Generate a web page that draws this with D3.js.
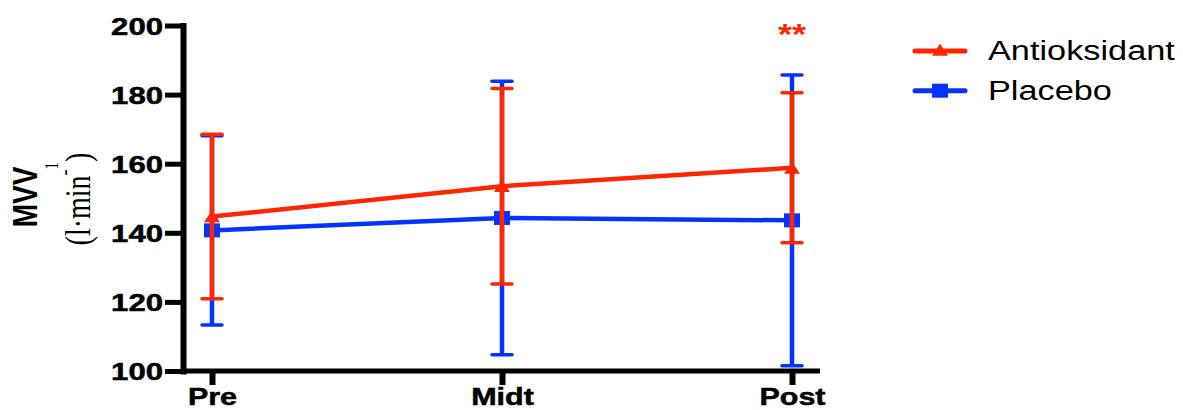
<!DOCTYPE html>
<html>
<head>
<meta charset="utf-8">
<script src="https://cdn.jsdelivr.net/npm/d3@7/dist/d3.min.js"></script>
<style>
  html, body { margin: 0; padding: 0; background: #fff; }
  svg { display: block; font-family: "Liberation Sans", Arial, sans-serif; }
</style>
</head>
<body>
<div id="chart"></div>
<script>
// values (mean and SD per time point)
var groups = ["Pre", "Midt", "Post"];
var antiMean = [144.7, 153.5, 158.8];
var antiSD = [23.8, 28.3, 21.7];
var placMean = [140.7, 144.3, 143.6];
var placSD = [27.4, 39.6, 42.1];
var yTicks = [100, 120, 140, 160, 180, 200];
var seriesNames = ["Antioksidant", "Placebo"];

var width = 1183, height = 410;
var RED = "#ff2600", BLUE = "#0433ff";
var SX = 1.27; // the original is stretched sideways, text too

var svg = d3.select("#chart")
  .append("svg")
  .attr("width", width)
  .attr("height", height);

var x = d3.scalePoint().domain(groups).range([212, 792]);
var y = d3.scaleLinear().domain([100, 200]).range([371, 25.5]);

// y axis
var yAxis = svg.append("g")
  .attr("transform", "translate(183,0)")
  .call(d3.axisLeft(y).tickValues(yTicks).tickSize(18).tickSizeOuter(0));
yAxis.select(".domain").attr("stroke", "#000").attr("stroke-width", 6).attr("stroke-linecap", "square");
yAxis.selectAll(".tick line").attr("stroke", "#000").attr("stroke-width", 5);
yAxis.selectAll(".tick text")
  .attr("x", 0)
  .attr("dy", "0.35em")
  .attr("transform", "translate(-20,0) scale(" + SX + ",1)")
  .attr("fill", "#000")
  .attr("stroke", "#000").attr("stroke-width", 0.5)
  .style("font-family", "'Liberation Sans', Arial, sans-serif")
  .style("font-weight", "bold")
  .style("font-size", "24.5px");

// x axis
var xAxis = svg.append("g")
  .attr("transform", "translate(0,371)")
  .call(d3.axisBottom(x).tickSize(14).tickSizeOuter(0));
xAxis.select(".domain").remove();
xAxis.insert("line", ":first-child")
  .attr("x1", 181).attr("x2", 820)
  .attr("y1", 0).attr("y2", 0)
  .attr("stroke", "#000").attr("stroke-width", 5);
xAxis.selectAll(".tick line").attr("stroke", "#000").attr("stroke-width", 6);
// kept just inside the bottom edge
xAxis.selectAll(".tick text")
  .attr("y", 0)
  .attr("dy", 0)
  .attr("transform", "translate(0,34) scale(" + SX + ",1)")
  .attr("fill", "#000")
  .attr("stroke", "#000").attr("stroke-width", 0.5)
  .style("font-family", "'Liberation Sans', Arial, sans-serif")
  .style("font-weight", "bold")
  .style("font-size", "24px");

// y label
svg.append("text")
  .attr("transform", "translate(37,197) scale(" + SX + ",1) rotate(-90)")
  .attr("text-anchor", "middle")
  .style("font-weight", "bold")
  .style("font-size", "28px")
  .text("MVV");

var unit = svg.append("text")
  .attr("transform", "translate(90,199) scale(" + SX + ",1) rotate(-90)")
  .attr("text-anchor", "middle")
  .style("font-family", "'Liberation Serif', 'Times New Roman', serif")
  .style("font-size", "28px");
unit.append("tspan").text("(l\u00b7min");
unit.append("tspan").attr("dy", -14).style("font-size", "18px").text("-");
unit.append("tspan").attr("dy", -11).style("font-size", "15px").text("1");
unit.append("tspan").attr("dy", 25).text(")");

function rows(means, sds) {
  return groups.map(function(g, i) { return {g: g, m: means[i], sd: sds[i]}; });
}

var line = d3.line()
  .x(function(d) { return x(d.g); })
  .y(function(d) { return y(d.m); });

function triangle(s) {
  return "M0," + (-s * 0.9) + "L" + s + "," + (s * 0.6) + "L" + (-s) + "," + (s * 0.6) + "Z";
}

function drawSeries(data, color, marker) {
  var g = svg.append("g");
  g.append("path")
    .datum(data)
    .attr("d", line)
    .attr("fill", "none")
    .attr("stroke", color)
    .attr("stroke-width", 4.5);

  var eb = g.selectAll(".eb").data(data).enter().append("g");
  eb.append("line")
    .attr("x1", function(d) { return x(d.g); })
    .attr("x2", function(d) { return x(d.g); })
    .attr("y1", function(d) { return y(d.m + d.sd); })
    .attr("y2", function(d) { return y(d.m - d.sd); })
    .attr("stroke", color).attr("stroke-width", 4.5);
  [1, -1].forEach(function(sgn) {
    eb.append("line")
      .attr("x1", function(d) { return x(d.g) - 10; })
      .attr("x2", function(d) { return x(d.g) + 10; })
      .attr("y1", function(d) { return y(d.m + sgn * d.sd); })
      .attr("y2", function(d) { return y(d.m + sgn * d.sd); })
      .attr("stroke", color).attr("stroke-width", 3.5).attr("stroke-linecap", "round");
  });

  if (marker == "square") {
    g.selectAll(".pt").data(data).enter().append("rect")
      .attr("x", function(d) { return x(d.g) - 8; })
      .attr("y", function(d) { return y(d.m) - 7; })
      .attr("width", 16).attr("height", 14)
      .attr("fill", color);
  } else {
    g.selectAll(".pt").data(data).enter().append("path")
      .attr("transform", function(d) { return "translate(" + x(d.g) + "," + (y(d.m) + 1) + ")"; })
      .attr("d", triangle(8))
      .attr("fill", color);
  }
}

drawSeries(rows(placMean, placSD), BLUE, "square");
drawSeries(rows(antiMean, antiSD), RED, "triangle");

// significance mark
svg.append("text")
  .attr("transform", "translate(" + x("Post") + ",44) scale(1.2,1)")
  .attr("text-anchor", "middle")
  .attr("fill", RED)
  .style("font-weight", "bold")
  .style("font-size", "30px")
  .text("**");

// legend
var legend = svg.selectAll(".legend")
  .data(seriesNames)
  .enter().append("g")
  .attr("transform", function(d, i) { return "translate(915," + (51 + i * 39.7) + ")"; });

legend.append("line")
  .attr("x1", 0).attr("x2", 50)
  .attr("stroke", function(d, i) { return i == 0 ? RED : BLUE; })
  .attr("stroke-width", 5)
  .attr("stroke-linecap", "round");

legend.each(function(d, i) {
  var el = d3.select(this);
  if (i == 0) {
    el.append("path").attr("transform", "translate(25,0)").attr("d", triangle(8)).attr("fill", RED);
  } else {
    el.append("rect").attr("x", 17).attr("y", -7).attr("width", 16).attr("height", 14).attr("fill", BLUE);
  }
});

legend.append("text")
  .attr("transform", "translate(73,9) scale(" + SX + ",1)")
  .attr("fill", "#000")
  .style("font-size", "27px")
  .text(function(d) { return d; });
</script>
</body>
</html>
